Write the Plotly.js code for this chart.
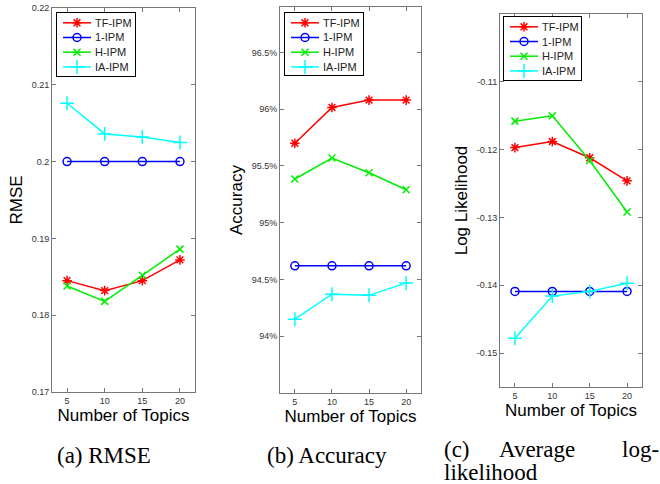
<!DOCTYPE html>
<html>
<head>
<meta charset="utf-8">
<script src="https://cdn.plot.ly/plotly-3.0.1.min.js"></script>
<style>html,body{margin:0;padding:0;background:#fff;}#chart{width:660px;height:484px;}</style>
</head>
<body>
<div id="chart"></div>
<script>
// ---- data ----
const topics = [5, 10, 15, 20];
const seriesNames = ['TF-IPM', '1-IPM', 'H-IPM', 'IA-IPM'];

const rmseTF = [0.1845, 0.1832, 0.1845, 0.1872];
const rmse1  = [0.2000, 0.2000, 0.2000, 0.2000];
const rmseH  = [0.1838, 0.1818, 0.1852, 0.1886];
const rmseIA = [0.2076, 0.2036, 0.2032, 0.2025];

const accTF = [95.70, 96.015, 96.08, 96.08];
const acc1  = [94.62, 94.62, 94.62, 94.62];
const accH  = [95.385, 95.57, 95.44, 95.29];
const accIA = [94.15, 94.37, 94.36, 94.47];

const llTF = [-0.1197, -0.1188, -0.1212, -0.1246];
const ll1  = [-0.1409, -0.1409, -0.1409, -0.1409];
const llH  = [-0.1158, -0.1150, -0.1216, -0.1292];
const llIA = [-0.1478, -0.1416, -0.1409, -0.1397];

const xTicks = [5, 10, 15, 20];
const rmseTicks = [0.17, 0.18, 0.19, 0.2, 0.21, 0.22];
const rmseTickText = ['0.17', '0.18', '0.19', '0.2', '0.21', '0.22'];
const accTicks = [94, 94.5, 95, 95.5, 96, 96.5];
const accTickText = ['94%', '94.5%', '95%', '95.5%', '96%', '96.5%'];
const llTicks = [-0.15, -0.14, -0.13, -0.12, -0.11];
const llTickText = ['-0.15', '-0.14', '-0.13', '-0.12', '-0.11'];

const yTitles = ['RMSE', 'Accuracy', 'Log Likelihood'];
const xTitle = 'Number of Topics';

// ---- styles / layout geometry (pixels) ----
const W = 660, H = 484;
const px = v => v / W;
const py = v => 1 - v / H;
const colors = ['#ff0000', '#0000ff', '#00ee00', '#00ffff'];
const symbols = ['asterisk-open', 'circle-open', 'x-thin-open', 'cross-thin-open'];
const msizes = [8, 8, 7, 10];

const panels = [
  {data: [rmseTF, rmse1, rmseH, rmseIA], ax: '', legAx: '4', box: {l: 57, t: 13, w: 78, h: 63}},
  {data: [accTF, acc1, accH, accIA], ax: '2', legAx: '5', box: {l: 285, t: 13, w: 78, h: 62}},
  {data: [llTF, ll1, llH, llIA], ax: '3', legAx: '6', box: {l: 504, t: 17, w: 77, h: 63}}
];

// legend item geometry inside the box (pixels)
const legItem = {lineX0: 6, lineX1: 34, textX: 37, firstY: 9.8, step: 14.7};
const legFont = {family: 'Liberation Sans, Arial, sans-serif', size: 11, color: '#222'};

const traces = [];
const annotations = [];
panels.forEach(p => {
  p.data.forEach((ys, i) => {
    traces.push({
      x: topics, y: ys, name: seriesNames[i], type: 'scatter', mode: 'lines+markers',
      xaxis: 'x' + p.ax, yaxis: 'y' + p.ax, showlegend: false,
      line: {color: colors[i], width: 1.5},
      marker: {symbol: symbols[i], size: msizes[i], color: colors[i], line: {color: colors[i], width: 1.5}}
    });
    // legend sample (line with marker in the middle), drawn on a hidden pixel-scaled axis
    const yc = legItem.firstY + legItem.step * i;
    const xm = (legItem.lineX0 + legItem.lineX1) / 2;
    traces.push({
      x: [legItem.lineX0, legItem.lineX1], y: [yc, yc], name: seriesNames[i],
      type: 'scatter', mode: 'lines', showlegend: false, hoverinfo: 'skip',
      xaxis: 'x' + p.legAx, yaxis: 'y' + p.legAx,
      line: {color: colors[i], width: 1.5}
    });
    traces.push({
      x: [xm], y: [yc], name: seriesNames[i],
      type: 'scatter', mode: 'markers', showlegend: false, hoverinfo: 'skip',
      xaxis: 'x' + p.legAx, yaxis: 'y' + p.legAx,
      marker: {symbol: symbols[i], size: msizes[i], color: colors[i], line: {color: colors[i], width: 1.5}}
    });
    annotations.push({
      text: seriesNames[i], xref: 'x' + p.legAx, yref: 'y' + p.legAx,
      x: legItem.textX, y: yc, xanchor: 'left', yanchor: 'middle',
      showarrow: false, font: legFont, borderpad: 0
    });
  });
});

const axisCommon = {
  showline: true, linecolor: '#777', linewidth: 1, mirror: 'ticks',
  ticks: 'inside', ticklen: 4, tickcolor: '#777', tickwidth: 1,
  showgrid: false, zeroline: false, automargin: false,
  tickfont: {family: 'Liberation Sans, Arial, sans-serif', size: 9, color: '#333'}
};
const titleFont = {family: 'Liberation Sans, Arial, sans-serif', size: 17, color: '#000'};

function xAx(domain, anchor) {
  return Object.assign({}, axisCommon, {
    domain: domain, anchor: anchor, range: [3, 22], tickvals: xTicks,
    title: {text: xTitle, font: titleFont, standoff: 1}
  });
}
function yAx(domain, anchor, range, tv, tt, title, standoff) {
  return Object.assign({}, axisCommon, {
    domain: domain, anchor: anchor, range: range, tickvals: tv, ticktext: tt,
    title: {text: title, font: titleFont, standoff: standoff}
  });
}
const legAxCommon = {
  showline: true, mirror: true, linecolor: '#000', linewidth: 1,
  ticks: '', showticklabels: false, showgrid: false, zeroline: false,
  fixedrange: true, automargin: false
};
function legAxes(p) {
  const b = p.box;
  return [
    Object.assign({}, legAxCommon, {domain: [px(b.l), px(b.l + b.w)], range: [0, b.w], anchor: 'y' + p.legAx}),
    Object.assign({}, legAxCommon, {domain: [py(b.t + b.h), py(b.t)], range: [b.h, 0], anchor: 'x' + p.legAx})
  ];
}

const layout = {
  width: W, height: H, margin: {l: 0, r: 0, t: 0, b: 0},
  paper_bgcolor: '#fff', plot_bgcolor: '#fff', showlegend: false,
  xaxis:  xAx([px(52), px(195)], 'y'),
  yaxis:  yAx([py(392), py(8)], 'x', [0.17, 0.22], rmseTicks, rmseTickText, yTitles[0], 4),
  xaxis2: xAx([px(280), px(421)], 'y2'),
  yaxis2: yAx([py(393), py(7)], 'x2', [93.5, 96.9], accTicks, accTickText, yTitles[1], 4),
  xaxis3: xAx([px(500), px(642)], 'y3'),
  yaxis3: yAx([py(387), py(14)], 'x3', [-0.155, -0.1], llTicks, llTickText, yTitles[2], 4),
  annotations: annotations.concat([
    {text: '(a) RMSE', x: px(104), y: py(469), xanchor: 'center', yanchor: 'bottom'},
    {text: '(b) Accuracy', x: px(327), y: py(469), xanchor: 'center', yanchor: 'bottom'},
    {text: '(c)', x: px(443), y: py(463), xanchor: 'left', yanchor: 'bottom'},
    {text: 'Average', x: px(498), y: py(463), xanchor: 'left', yanchor: 'bottom'},
    {text: 'log-', x: px(660), y: py(463), xanchor: 'right', yanchor: 'bottom'},
    {text: 'likelihood', x: px(443), y: py(486), xanchor: 'left', yanchor: 'bottom'}
  ].map(a => Object.assign({xref: 'paper', yref: 'paper', showarrow: false, borderpad: 0,
    font: {family: 'Liberation Serif, Times New Roman, serif', size: 23, color: '#000'}}, a)))
};
panels.forEach(p => {
  const [lx, ly] = legAxes(p);
  layout['xaxis' + p.legAx] = lx;
  layout['yaxis' + p.legAx] = ly;
});

Plotly.newPlot('chart', traces, layout, {displayModeBar: false, staticPlot: true});
</script>
</body>
</html>
